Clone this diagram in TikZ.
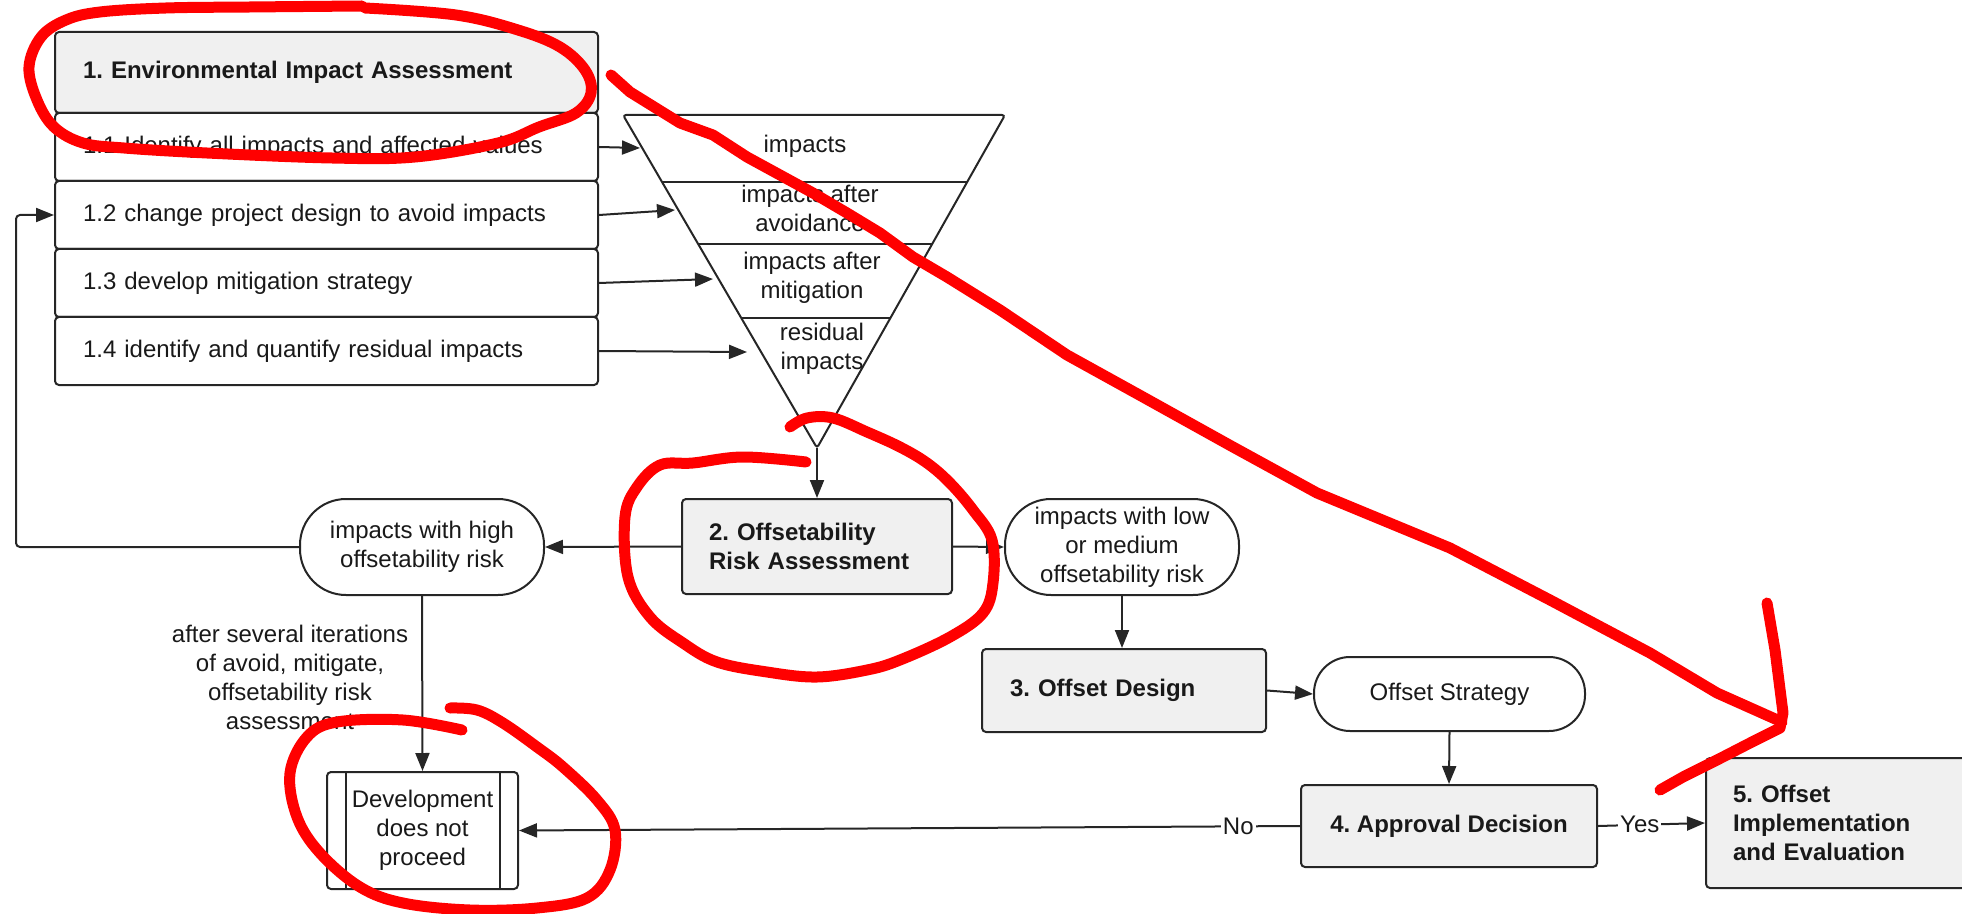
\documentclass[tikz,border=0pt]{standalone}
\usepackage{fontspec}
\setmainfont{Liberation Sans}
\usetikzlibrary{arrows.meta,calc}
\frenchspacing
\begin{document}
\begin{tikzpicture}[x=0.5pt,y=-0.5pt,
  every node/.style={font=\fontsize{12}{14.5}\selectfont, text=black!90},
  conn/.style={draw=black!85, line width=1pt},
  arr/.style={conn, -{Triangle[length=9pt,width=7pt]}},
  gbox/.style={draw=black!85, line width=1pt, fill=black!6, rounded corners=2pt,
    font=\fontsize{12}{14.5}\selectfont\bfseries},
  wbox/.style={draw=black!85, line width=1pt, fill=white, rounded corners=2pt},
  subbox/.style={wbox, minimum height=34pt, text width=243.5pt, inner xsep=14pt, align=left},
  pill/.style={draw=black!85, line width=1pt, fill=white, rounded corners=#1,
    align=center, inner sep=0pt},
  redink/.style={draw=red, line width=5.5pt, line cap=round, line join=round}
]
\useasboundingbox (0,0) rectangle (1962,914);
\clip (0,0) rectangle (1962,914);

% Step 1 and its sub-steps
\node[gbox, minimum width=271.5pt, minimum height=40.5pt, text width=243.5pt,
  inner xsep=14pt, align=left] (eia) at (326.5,72.5) {1. Environmental Impact Assessment};
\node[subbox] (s11) at (326.5,147) {1.1 Identify all impacts and affected values};
\node[subbox] (s12) at (326.5,215) {1.2 change project design to avoid impacts};
\node[subbox] (s13) at (326.5,283) {1.3 develop mitigation strategy};
\node[subbox] (s14) at (326.5,351) {1.4 identify and quantify residual impacts};

% Impact funnel
\coordinate (ftl) at (623,115);
\coordinate (ftr) at (1005,115);
\coordinate (fv) at (817,448);
\draw[conn, fill=white, rounded corners=1.5pt] (ftl) -- (ftr) -- (fv) -- cycle;
\foreach \t in {0.2012,0.3874,0.6096}
  \draw[conn] ($(ftl)!\t!(fv)$) -- ($(ftr)!\t!(fv)$);
\node (fl1) at (805,146) {impacts};
\node[align=center] (fl2) at (810,208) {impacts after\\avoidance};
\node[align=center] (fl3) at (812,278) {impacts after\\mitigation};
\node[align=center] (fl4) at (822,349) {residual\\impacts};

\coordinate (fa1) at (640,148);
\coordinate (fa2) at (675,210);
\coordinate (fa3) at (713,279);
\coordinate (fa4) at (747,352);
\draw[arr] (s11.east) -- (fa1);
\draw[arr] (s12.east) -- (fa2);
\draw[arr] (s13.east) -- (fa3);
\draw[arr] (s14.east) -- (fa4);

% Risk assessment and outcomes
\node[gbox, minimum width=135pt, minimum height=47.5pt, text width=108pt,
  inner xsep=13.5pt, align=left] (ora) at (817,546.5) {2. Offsetability\\Risk Assessment};
\node[pill=23pt, minimum width=122pt, minimum height=48pt] (hi) at (422,547)
  {impacts with high\\offsetability risk};
\node[pill=23pt, minimum width=117pt, minimum height=48pt] (lo) at (1122,547)
  {impacts with low\\or medium\\offsetability risk};
\node[gbox, minimum width=142pt, minimum height=41.5pt, text width=114pt,
  inner xsep=14pt, align=left] (od) at (1124,690.5) {3. Offset Design};
\node[pill=18pt, minimum width=135.5pt, minimum height=37pt] (os) at (1449.5,694)
  {Offset Strategy};
\node[gbox, minimum width=148pt, minimum height=41pt, align=center] (ad) at (1449,826)
  {4. Approval Decision};
\node[gbox, minimum width=150pt, minimum height=65pt, text width=123pt,
  inner xsep=13.5pt, align=left] (oi) at (1856,823) {5. Offset\\Implementation\\and Evaluation};
\node[wbox, minimum width=95.5pt, minimum height=58.5pt, align=center, inner sep=0pt]
  (dnp) at (422.5,830.5) {Development\\does not\\proceed};
\draw[conn] ($(dnp.north west)+(20,0)$) -- ($(dnp.south west)+(20,0)$);
\draw[conn] ($(dnp.north east)+(-19,0)$) -- ($(dnp.south east)+(-19,0)$);
\node[align=center] (iter) at (290,677.5)
  {after several iterations\\of avoid, mitigate,\\offsetability risk\\assessment};

% Connectors
\draw[arr] (fv) -- (ora.north);
\draw[arr] (ora.west) -- (hi.east);
\draw[arr] (ora.east) -- (lo.west);
\coordinate (fbk) at (16,547);
\draw[arr, rounded corners=2pt] (hi.west) -- (fbk) |- (s12.west);
\draw[arr] (hi.south) -- (dnp.north);
\draw[arr] (lo.south) -- (lo.south |- od.north);
\draw[arr] (od.east) -- (os.west);
\draw[arr] (os.south) -- (ad.north);
\draw[arr] (ad.west) -- node[pos=0.079, fill=white, inner sep=1pt] (nolbl) {No} (dnp.east);
\draw[arr] (ad.east) -- node[pos=0.39, fill=white, inner sep=1pt] (yeslbl) {Yes} (oi.west);

% Hand-drawn red annotations
\draw[redink] plot[smooth, tension=0.6] coordinates {
  (365,8) (456,15) (518,30) (560,47) (585,70) (591,93) (576,113) (539,127)
  (498,143) (415,157) (332,158) (207,153) (124,148) (83,143) (54,127) (37,100)
  (29,67) (41,37) (66,20) (100,12) (166,8) (250,7) (362,6)};
\draw[redink] plot[smooth, tension=0.6] coordinates {
  (806,462) (743,457) (693,463) (660,465) (637,487) (625,517) (628,577) (650,617)
  (683,643) (717,662) (767,672) (817,677) (867,670) (900,660) (950,637) (983,613)
  (993,583) (992,540) (973,510) (950,483) (927,463) (900,447) (867,432) (833,418)
  (807,418) (790,427)};
\draw[redink] plot[smooth, tension=0.6] coordinates {
  (462,730) (403,720) (337,722) (307,737) (290,773) (297,817) (320,853) (360,887)
  (403,903) (470,910) (537,908) (587,898) (610,870) (615,830) (597,800) (563,767)
  (537,747) (503,723) (477,710) (450,708)};
\draw[redink] (611,75) -- (630,92) -- (680,123) -- (713,135) -- (747,157) -- (780,175)
  -- (813,193) -- (847,213) -- (880,233) -- (913,257) -- (947,277) -- (1000,310)
  -- (1067,355) -- (1143,397) -- (1233,447) -- (1317,493) -- (1450,548) -- (1550,600)
  -- (1650,653) -- (1717,693) -- (1782,722);
\draw[redink] (1767,603) -- (1775,650) -- (1783,713) -- (1780,728) -- (1750,743)
  -- (1717,760) -- (1683,777) -- (1660,790);
\end{tikzpicture}
\end{document}
